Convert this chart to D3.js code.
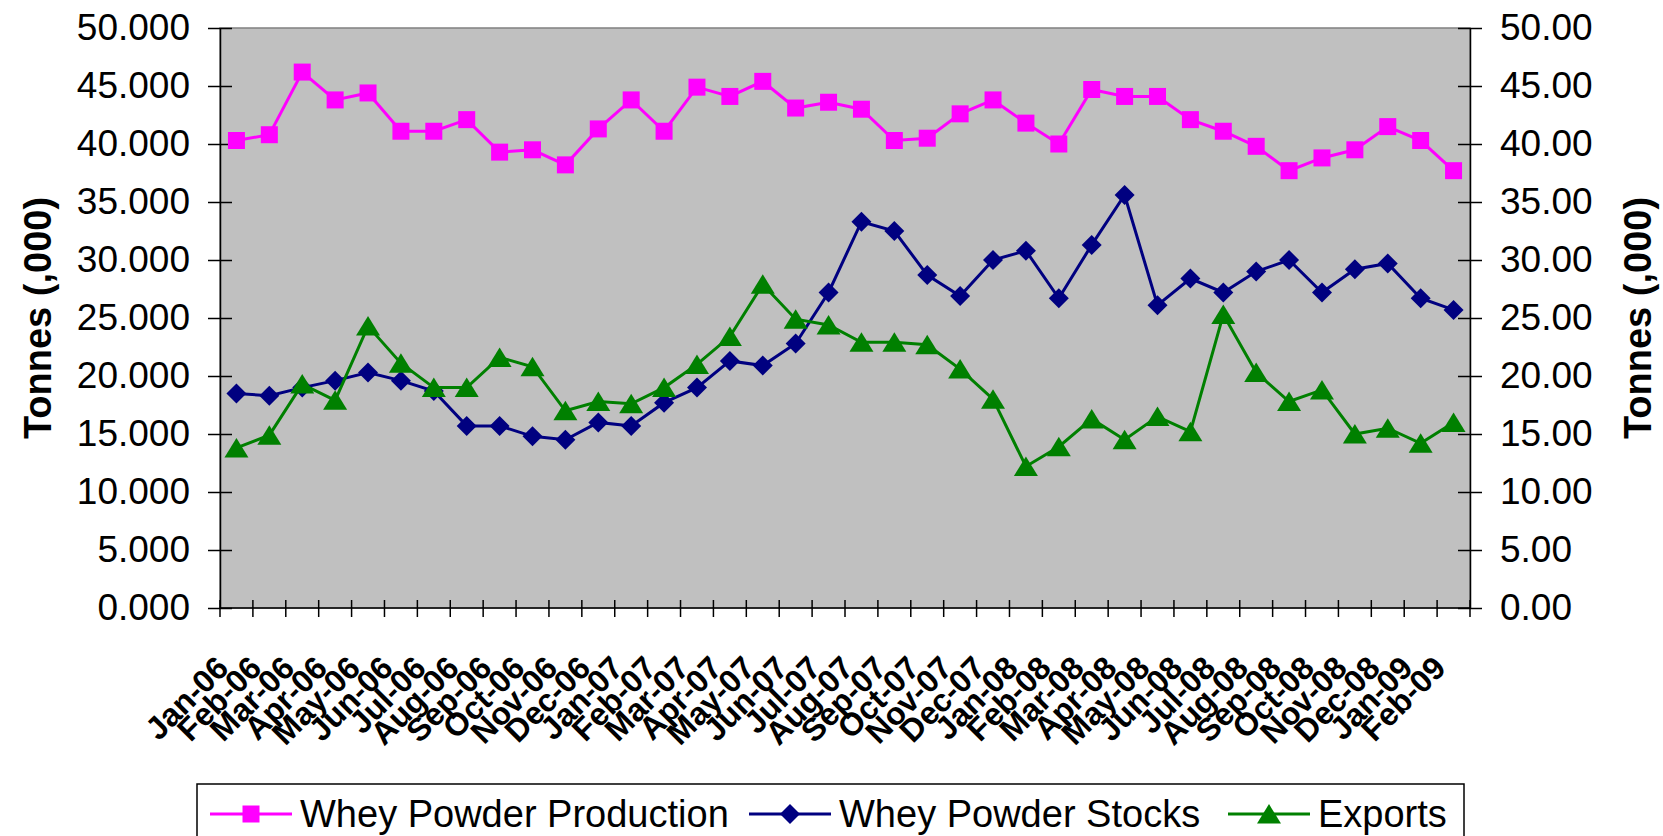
<!DOCTYPE html>
<meta charset="utf-8">
<style>

body {
  margin: 0;
  background: #fff;
}

text {
  font-family: "Liberation Sans", Arial, sans-serif;
  fill: #000;
}

.axis path,
.axis line {
  fill: none;
  stroke: #000;
  stroke-width: 1.5px;
}

.axis text {
  font-size: 37px;
}

.title {
  font-size: 38px;
  font-weight: bold;
  text-anchor: middle;
}

.xlabel {
  font-size: 32px;
  font-weight: bold;
  text-anchor: end;
}

.line {
  fill: none;
  stroke-width: 3px;
}

.legend text {
  font-size: 38px;
}

</style>
<svg width="1663" height="836"></svg>
<script src="https://d3js.org/d3.v7.min.js"></script>
<script>

var months = ["Jan-06", "Feb-06", "Mar-06", "Apr-06", "May-06", "Jun-06", "Jul-06", "Aug-06", "Sep-06", "Oct-06", "Nov-06", "Dec-06",
              "Jan-07", "Feb-07", "Mar-07", "Apr-07", "May-07", "Jun-07", "Jul-07", "Aug-07", "Sep-07", "Oct-07", "Nov-07", "Dec-07",
              "Jan-08", "Feb-08", "Mar-08", "Apr-08", "May-08", "Jun-08", "Jul-08", "Aug-08", "Sep-08", "Oct-08", "Nov-08", "Dec-08",
              "Jan-09", "Feb-09"];

var production = [40.3, 40.8, 46.2, 43.8, 44.4, 41.1, 41.1, 42.1, 39.3, 39.5, 38.2, 41.3,
                  43.8, 41.1, 44.9, 44.1, 45.4, 43.1, 43.6, 43.0, 40.3, 40.5, 42.6, 43.8,
                  41.8, 40.0, 44.7, 44.1, 44.1, 42.1, 41.1, 39.8, 37.7, 38.8, 39.5, 41.5,
                  40.3, 37.7];

var stocks = [18.5, 18.3, 19.0, 19.6, 20.3, 19.6, 18.7, 15.7, 15.7, 14.8, 14.5, 16.0,
              15.7, 17.7, 19.0, 21.3, 20.9, 22.8, 27.2, 33.3, 32.5, 28.7, 26.9, 30.0,
              30.8, 26.7, 31.3, 35.6, 26.1, 28.4, 27.2, 29.0, 30.0, 27.2, 29.2, 29.7,
              26.7, 25.7];

var exports = [13.8, 14.9, 19.3, 17.9, 24.3, 21.1, 19.0, 19.0, 21.6, 20.8, 17.0, 17.8,
               17.6, 19.0, 21.0, 23.4, 27.9, 24.9, 24.4, 22.9, 22.9, 22.7, 20.6, 18.0,
               12.2, 13.9, 16.3, 14.5, 16.5, 15.2, 25.3, 20.3, 17.8, 18.8, 15.0, 15.5,
               14.2, 16.0];

var yTicks = [0, 5, 10, 15, 20, 25, 30, 35, 40, 45, 50];

var series = [
  {name: "Whey Powder Production", values: production, color: "#ff00ff", marker: "square"},
  {name: "Whey Powder Stocks", values: stocks, color: "#000080", marker: "diamond"},
  {name: "Exports", values: exports, color: "#008000", marker: "triangle"}
];

var svg = d3.select("svg");

var plot = {left: 220, right: 1470, top: 28, bottom: 608};

var x = d3.scaleBand()
    .domain(months)
    .range([plot.left, plot.right])
    .padding(0);

function cx(d) { return x(d) + x.bandwidth() / 2; }

var y = d3.scaleLinear()
    .domain([0, 50])
    .range([plot.bottom, plot.top]);

// plot background
svg.append("rect")
    .attr("x", plot.left)
    .attr("y", plot.top)
    .attr("width", plot.right - plot.left)
    .attr("height", plot.bottom - plot.top)
    .attr("fill", "#c0c0c0")
    .attr("stroke", "#808080")
    .attr("stroke-width", 1.5);

// left axis
var yLeft = svg.append("g")
    .attr("class", "axis")
    .attr("transform", "translate(" + plot.left + ",0)")
    .call(d3.axisLeft(y).tickValues(yTicks).tickSize(12).tickSizeOuter(0).tickPadding(18).tickFormat(d3.format(".3f")));
yLeft.selectAll(".tick line").attr("x1", 12);

// right axis
var yRight = svg.append("g")
    .attr("class", "axis")
    .attr("transform", "translate(" + plot.right + ",0)")
    .call(d3.axisRight(y).tickValues(yTicks).tickSize(12).tickSizeOuter(0).tickPadding(18).tickFormat(d3.format(".2f")));
yRight.selectAll(".tick line").attr("x1", -12);

// bottom axis, ticks sit between the months
var xAxis = svg.append("g").attr("class", "axis");
xAxis.append("line")
    .attr("x1", plot.left).attr("x2", plot.right)
    .attr("y1", plot.bottom).attr("y2", plot.bottom);
var bounds = months.map(function(d) { return x(d); }).concat([plot.right]);
xAxis.selectAll(".xtick")
    .data(bounds)
  .enter().append("line")
    .attr("class", "xtick")
    .attr("x1", function(d) { return d; })
    .attr("x2", function(d) { return d; })
    .attr("y1", plot.bottom - 8)
    .attr("y2", plot.bottom + 9);

svg.selectAll(".xlabel")
    .data(months)
  .enter().append("text")
    .attr("class", "xlabel")
    .attr("transform", function(d) { return "translate(" + (cx(d) - 6) + ",670) rotate(-45)"; })
    .text(function(d) { return d; });

// axis titles
svg.append("text")
    .attr("class", "title")
    .attr("transform", "translate(37," + ((plot.top + plot.bottom) / 2) + ") rotate(-90)")
    .attr("dy", "0.36em")
    .text("Tonnes (,000)");

svg.append("text")
    .attr("class", "title")
    .attr("transform", "translate(1637," + ((plot.top + plot.bottom) / 2) + ") rotate(-90)")
    .attr("dy", "0.36em")
    .text("Tonnes (,000)");

// markers
function markerPath(type) {
  if (type === "square") return "M-8.5,-8.5H8.5V8.5H-8.5Z";
  if (type === "diamond") return "M0,-10L10,0L0,10L-10,0Z";
  return "M0,-10L12,9.5H-12Z";
}

var line = d3.line()
    .x(function(d, i) { return cx(months[i]); })
    .y(function(d) { return y(d); });

var serie = svg.selectAll(".serie")
    .data(series)
  .enter().append("g")
    .attr("class", "serie");

serie.append("path")
    .attr("class", "line")
    .style("stroke", function(d) { return d.color; })
    .attr("d", function(d) { return line(d.values); });

serie.each(function(s) {
  d3.select(this).selectAll(".marker")
      .data(s.values)
    .enter().append("path")
      .attr("class", "marker")
      .attr("d", markerPath(s.marker))
      .attr("fill", s.color)
      .attr("transform", function(d, i) { return "translate(" + cx(months[i]) + "," + y(d) + ")"; });
});

// legend
var legend = svg.append("g").attr("class", "legend");
legend.append("rect")
    .attr("x", 197)
    .attr("y", 784)
    .attr("width", 1267)
    .attr("height", 80)
    .attr("fill", "#fff")
    .attr("stroke", "#000")
    .attr("stroke-width", 1.5);

var legendX = [210, 749, 1228];
var item = legend.selectAll(".item")
    .data(series)
  .enter().append("g")
    .attr("class", "item")
    .attr("transform", function(d, i) { return "translate(" + legendX[i] + ",814)"; });

item.append("line")
    .attr("x1", 0).attr("x2", 82)
    .attr("stroke", function(d) { return d.color; })
    .attr("stroke-width", 3);

item.append("path")
    .attr("d", function(d) { return markerPath(d.marker); })
    .attr("fill", function(d) { return d.color; })
    .attr("transform", "translate(41,0)");

item.append("text")
    .attr("x", 90)
    .attr("dy", "0.35em")
    .text(function(d) { return d.name; });

</script>
